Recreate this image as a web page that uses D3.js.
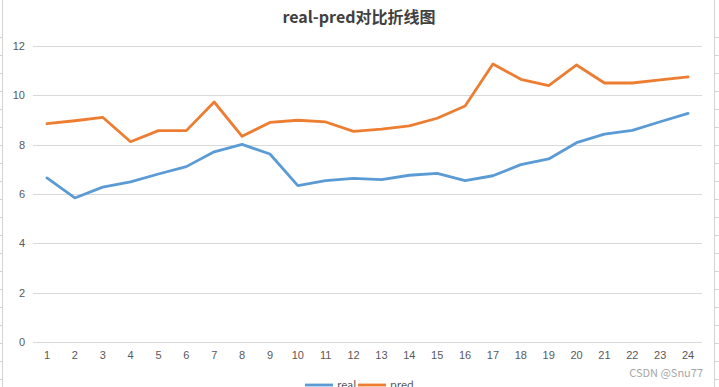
<!DOCTYPE html>
<html>
<head>
<meta charset="utf-8">
<script src="https://cdn.jsdelivr.net/npm/d3@7"></script>
<style>
  body { margin: 0; background: #fff; }
  svg { display: block; font-family: "Microsoft YaHei", "Noto Sans CJK SC", "DejaVu Sans", sans-serif; }
  .title { font-size: 16px; font-weight: bold; fill: #404040; }
  .axis text { font-size: 11px; fill: #595959; }
  .legend text { font-size: 11px; fill: #595959; }
</style>
</head>
<body>
<svg width="719" height="387"></svg>
<script>
var categories = ["1","2","3","4","5","6","7","8","9","10","11","12","13","14","15","16","17","18","19","20","21","22","23","24"];
var realValues = [6.65, 5.84, 6.28, 6.49, 6.81, 7.11, 7.71, 8.01, 7.62, 6.34, 6.54, 6.63, 6.58, 6.76, 6.84, 6.54, 6.74, 7.19, 7.42, 8.08, 8.43, 8.58, 8.93, 9.27];
var predValues = [8.85, 8.97, 9.11, 8.12, 8.57, 8.57, 9.73, 8.34, 8.90, 8.99, 8.92, 8.54, 8.63, 8.76, 9.07, 9.57, 11.27, 10.65, 10.39, 11.23, 10.50, 10.50, 10.63, 10.75];
var yTicks = [0, 2, 4, 6, 8, 10, 12];
var seriesNames = ["real", "pred"];
var colors = ["#5B9BD5", "#ED7D31"];

var svg = d3.select("svg");

// excel sheet borders at the sides
var rows = d3.range(37, 387, 18);
svg.append("line").attr("x1", 2.5).attr("x2", 2.5).attr("y1", 0).attr("y2", 387)
    .attr("stroke", "#d4d4d4");
svg.append("line").attr("x1", 714.5).attr("x2", 714.5).attr("y1", 0).attr("y2", 387)
    .attr("stroke", "#d4d4d4");
svg.selectAll(".lrow").data(rows).enter().append("line")
    .attr("x1", 0).attr("x2", 2.5).attr("y1", d => d + 0.5).attr("y2", d => d + 0.5)
    .attr("stroke", "#d4d4d4");
svg.selectAll(".rrow").data(rows).enter().append("line")
    .attr("x1", 714.5).attr("x2", 719).attr("y1", d => d + 0.5).attr("y2", d => d + 0.5)
    .attr("stroke", "#d4d4d4");

svg.append("text")
    .attr("class", "title")
    .attr("x", 359)
    .attr("y", 23)
    .attr("text-anchor", "middle")
    .text("real-pred对比折线图");

var plotLeft = 33, plotRight = 702, plotTop = 46, plotBottom = 342;

var xScale = d3.scaleBand().domain(categories).range([plotLeft, plotRight]);
var yScale = d3.scaleLinear().domain([0, 12]).range([plotBottom, plotTop]);

// gridlines
svg.append("g")
    .selectAll("line")
    .data(yTicks)
    .enter()
    .append("line")
    .attr("x1", plotLeft)
    .attr("x2", plotRight)
    .attr("y1", d => Math.round(yScale(d)) + 0.5)
    .attr("y2", d => Math.round(yScale(d)) + 0.5)
    .attr("stroke", "#d9d9d9")
    .attr("stroke-width", 1);

var yAxis = svg.append("g")
    .attr("class", "axis")
    .attr("transform", "translate(" + (plotLeft - 8) + ",0)")
    .call(d3.axisLeft(yScale).tickValues(yTicks).tickSize(0).tickPadding(0));
yAxis.select(".domain").remove();

var xAxis = svg.append("g")
    .attr("class", "axis")
    .attr("transform", "translate(0," + plotBottom + ")")
    .call(d3.axisBottom(xScale).tickSize(0).tickPadding(9));
xAxis.select(".domain").remove();

var line = d3.line()
    .x((d, i) => xScale(categories[i]) + xScale.bandwidth() / 2)
    .y(d => yScale(d));

[realValues, predValues].forEach(function(vals, k) {
    svg.append("path")
        .datum(vals)
        .attr("fill", "none")
        .attr("stroke", colors[k])
        .attr("stroke-width", 2.8)
        .attr("stroke-linejoin", "round")
        .attr("stroke-linecap", "round")
        .attr("d", line);
});

// legend
var legend = svg.append("g").attr("class", "legend");
var legendX = [305, 358];
seriesNames.forEach(function(name, k) {
    legend.append("line")
        .attr("x1", legendX[k]).attr("x2", legendX[k] + 28)
        .attr("y1", 385).attr("y2", 385)
        .attr("stroke", colors[k])
        .attr("stroke-width", 2.8);
    legend.append("text")
        .attr("x", legendX[k] + 32)
        .attr("y", 389)
        .text(name);
});

svg.append("text")
    .attr("x", 703)
    .attr("y", 377)
    .attr("text-anchor", "end")
    .attr("font-size", 11)
    .attr("fill", "#a6a6a6")
    .text("CSDN @Snu77");
</script>
</body>
</html>
